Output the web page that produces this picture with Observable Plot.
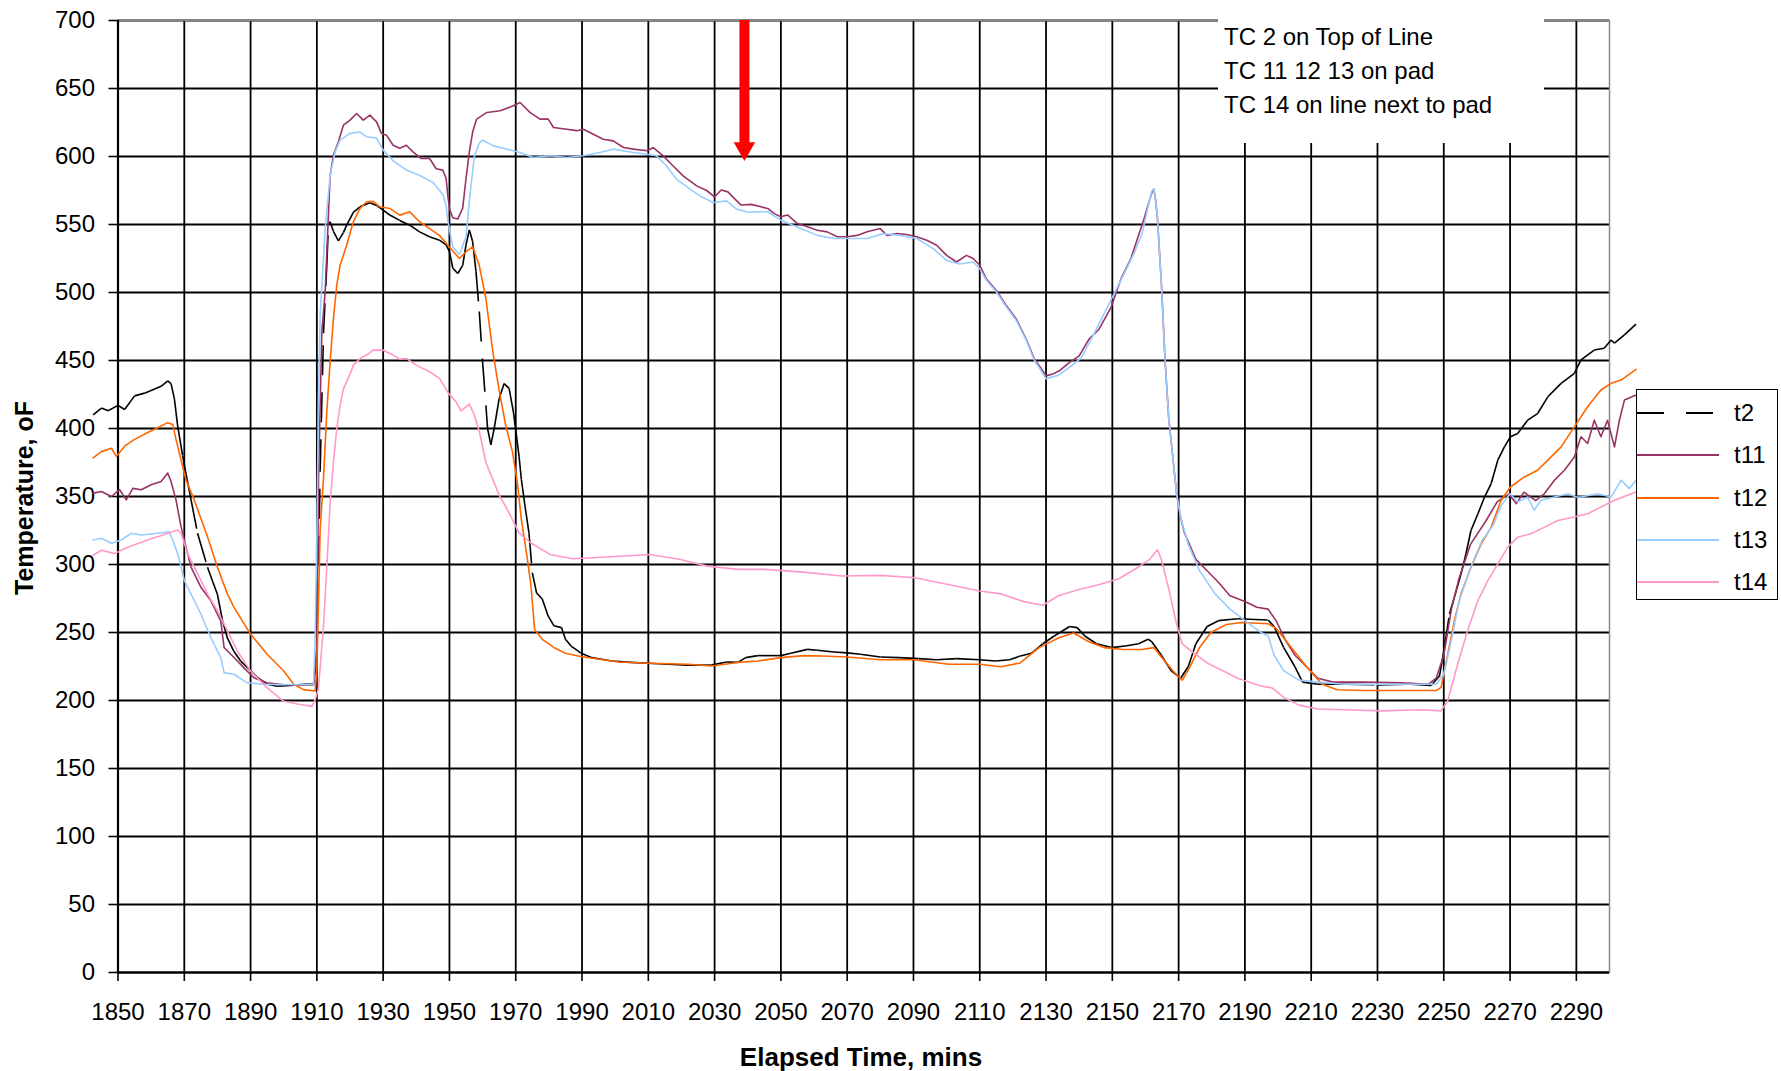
<!DOCTYPE html>
<html><head><meta charset="utf-8">
<script src="https://cdn.jsdelivr.net/npm/d3@7"></script>
<script src="https://cdn.jsdelivr.net/npm/@observablehq/plot@0.6"></script>
<style>
body{margin:0;background:#fff;}
#wrap{position:relative;width:1781px;height:1071px;overflow:hidden;font-family:"Liberation Sans",Arial,sans-serif;color:#000;}
#wrap svg{position:absolute;left:0;top:0;}
.note{position:absolute;left:1218px;top:19px;width:326px;height:124px;background:#fff;font-size:24px;line-height:34px;padding-top:1px;box-sizing:border-box;}
.note div{padding-left:6px;white-space:nowrap;}
.legend{position:absolute;left:1636px;top:389px;width:142px;height:211px;background:#fff;border:1.5px solid #000;box-sizing:border-box;}
.legend .row{position:absolute;left:0;width:140px;height:30px;}
.legend .row svg{position:absolute;left:8px;top:0;}
.legend .row span{position:absolute;left:97px;top:0;font-size:24px;line-height:30px;}
.xtitle{position:absolute;left:861px;top:1042px;transform:translateX(-50%);font-weight:bold;font-size:26px;white-space:nowrap;}
.ytitle{position:absolute;left:24px;top:498px;transform:translate(-50%,-50%) rotate(-90deg);font-weight:bold;font-size:25px;white-space:nowrap;}
</style></head><body><div id="wrap"></div>
<script>
// ---- series definitions ----
const seriesNames = ["t2", "t11", "t12", "t13", "t14"];
const seriesColors = ["#000000", "#993366", "#FF6600", "#99CCFF", "#FF99CC"];

// [elapsed minutes, temperature oF]
const t2 = [[1842.5,410],[1845,415],[1847,413],[1850,417],[1852,414],[1855,424],[1858,426],[1860,428],[1863,431],[1865,435],[1866,433],[1867,422],[1868,402],[1869.5,380],[1870.5,367],[1872,348],[1874,323],[1877,298],[1880,278],[1881.5,259],[1883,246],[1885,236],[1887,229],[1890,222],[1892,217],[1895,212],[1898,210.5],[1902,211],[1906,212],[1909,212],[1910,230],[1911,370],[1912,470],[1913,520],[1913.5,550],[1914,552],[1915,545],[1916.5,538],[1918,544],[1919,549.5],[1921,559],[1923,563],[1926,566],[1928,564],[1930,560.5],[1932,557],[1935,553],[1938,549.5],[1941,544.6],[1944,541],[1947,538.5],[1949,535],[1950,530],[1951,518],[1952.5,514],[1954,520],[1955,535],[1956,546],[1957,537.5],[1958,515.5],[1959,486],[1960,449],[1961,417],[1961.5,400],[1962.5,388],[1963.5,400],[1965,422],[1966.5,433],[1968,429.5],[1969.3,412],[1970,399],[1971,379.6],[1971.7,362.5],[1972.8,343],[1974,323],[1975,294],[1976.3,279],[1978,274.6],[1979.8,262],[1981.5,255],[1983.8,253.6],[1985,245],[1986.7,240],[1989.6,235],[1993,231.5],[1999,229],[2004.7,228],[2010,227.4],[2016,226.6],[2022,226],[2029,226],[2033.6,228.3],[2037,228],[2039.4,231.5],[2043,233],[2050,233],[2053,234.7],[2058,237.6],[2061,237],[2066,235.7],[2070,235],[2074,234],[2080,232],[2085.7,231.5],[2091.5,230.8],[2097,230],[2103,230.8],[2110,230],[2114.7,229],[2119,230],[2122,232.5],[2125.6,234.7],[2129,241.7],[2132.5,247.4],[2137.1,254.4],[2139.4,253.6],[2141.7,247.4],[2145.2,241.7],[2149.8,238.9],[2154.4,240.3],[2157.9,241.7],[2160.8,245.1],[2161.9,243.2],[2164.8,233.3],[2167.7,222],[2170.6,216.4],[2172.9,224.8],[2175.2,241.7],[2178.6,254.4],[2182,258.7],[2187.8,260.1],[2197,259.2],[2198.8,254.4],[2201.7,238.9],[2205.1,224.8],[2207.4,213.5],[2212,212],[2220,212],[2230,211.5],[2240,212],[2246.2,211],[2248.7,218],[2250.2,239],[2251.7,263.6],[2253.2,276],[2255.2,293],[2256.7,307.9],[2258.2,325],[2260.3,337.3],[2262.3,349.6],[2264.3,359.5],[2266.3,376.7],[2268.3,386.5],[2270.1,393.9],[2272.3,396.3],[2275.3,406.1],[2278.3,411],[2281.4,423.3],[2285.4,433.2],[2289.4,440.5],[2291.4,450.4],[2295.4,457.7],[2298.4,459],[2300.5,465.1],[2301.5,462.7],[2304.5,468.8],[2308,476.7]];

const t11 = [[1842.5,352.5],[1845,353.7],[1848,350],[1850.5,355],[1852.5,347.5],[1854.5,356],[1857,355],[1860,358.6],[1863,361],[1865,367.3],[1866,361],[1867.5,347.5],[1869,328],[1870.5,313],[1872,298.3],[1875,283.3],[1878,273.5],[1881,258.6],[1882,239],[1885,231.6],[1888,224],[1891,216.7],[1895,213],[1900,211.6],[1905,211.5],[1909,211.5],[1910,240],[1910.5,363],[1911.5,471],[1912.5,500.5],[1914,586],[1915,601],[1916.5,610.8],[1918,623],[1920,626.7],[1922,631.6],[1924,626.7],[1926,630.4],[1928,625.5],[1929.5,617],[1931,615.7],[1933,608.3],[1935,606],[1937,608.3],[1939,603.4],[1941.5,598.5],[1944,598.5],[1946,591],[1948,590],[1949,583.8],[1949.5,571.6],[1950,561.8],[1951,555],[1952.5,554],[1954,562],[1955,583.8],[1956,603.4],[1957,618],[1958.2,627.5],[1961.3,632.4],[1965.3,633.6],[1969.3,637.3],[1971.3,639.7],[1974.3,632.4],[1977.3,627.5],[1979.8,627.5],[1981.4,621.3],[1985.4,620],[1988.4,619],[1990.4,620],[1993.4,616.4],[1996.4,612.7],[1999.4,611.5],[2002.5,606.6],[2005.5,605.4],[2009.7,604.2],[2011.5,606.6],[2014.5,600.5],[2017.5,593],[2020.5,585.8],[2024.6,578.4],[2027.6,575],[2030,570.4],[2032,575.4],[2034,574],[2036,569],[2038,564.3],[2041,564.8],[2044,563],[2046,561.8],[2048,558],[2050,555.7],[2052,557],[2055,550.7],[2058,548.3],[2061,545.8],[2064,544.6],[2067,541],[2070,541],[2073,542],[2076,544.6],[2080,547],[2082,542],[2085,543.3],[2088,542.6],[2091,541],[2094,538.4],[2097,534.7],[2100,527.3],[2103,522.4],[2106,527.3],[2108,525],[2110,520],[2112,510],[2115,501.5],[2118,490.4],[2121,480.5],[2124,465.8],[2126.5,451],[2128,446],[2130,438.7],[2132,440],[2134,442.4],[2137,448.5],[2140,453.4],[2143,465.8],[2146,473],[2149.6,489],[2152.6,510],[2155.6,524.9],[2157.6,539.7],[2159.6,554.4],[2161,566],[2162,574],[2162.5,576],[2163,569],[2163.6,555],[2164.8,507],[2165.9,450.5],[2167,408.2],[2168.2,380],[2169.4,351.8],[2170.6,334.8],[2171.7,323.6],[2175.2,303.8],[2178.6,295.4],[2182,286.9],[2185.5,277],[2190,272.8],[2193.6,268.6],[2197,267.2],[2199.4,258.7],[2202.2,244.5],[2205.1,233.3],[2208.6,224.8],[2212,216.4],[2216.6,213.5],[2226,213.5],[2237.4,213],[2245.4,212],[2247.7,216.4],[2250,233.3],[2252.3,267.2],[2254.6,289.7],[2258.1,315],[2262.7,332],[2266.1,346.1],[2269.6,351.8],[2271.9,344.7],[2274.2,353.2],[2277.7,347],[2280.3,352],[2283.4,362],[2286.4,369.3],[2289.4,379],[2291.4,393.9],[2293.4,389],[2295.4,406.1],[2297.4,393.9],[2299.4,406.1],[2301.5,386.5],[2303,406.1],[2304.5,420.9],[2308,424.6]];

const t12 = [[1842.5,378.4],[1845,383],[1848,385.5],[1849.5,379.5],[1852,387],[1855,392],[1859,397],[1862,400.6],[1865,404.3],[1866.5,403],[1867.5,392],[1869,377],[1870.5,362.3],[1873,347.5],[1877,320.4],[1880,298],[1883,278.4],[1885,268.5],[1890,248.8],[1895,234],[1900,221.7],[1903,212],[1906,208],[1909.5,207],[1910,224],[1910.5,273],[1911,326.5],[1912,363.2],[1913,412.3],[1914,449],[1915,481],[1916,505.4],[1917,520],[1919,534.8],[1921,552],[1923,561.8],[1925,566.7],[1927,567],[1929,563],[1932,561.8],[1935,556.9],[1938,559.3],[1941,552],[1944,547],[1947,542],[1949.5,534.8],[1953,525],[1955,530],[1957,533.6],[1959,520],[1961,495.6],[1963,458],[1965,428],[1967,402],[1969,383],[1970.5,360],[1971.7,333],[1973.4,306],[1974.6,284.4],[1975.7,252.3],[1978,245],[1981.5,239],[1985,234.7],[1989.6,232.3],[1995.4,230.3],[2001,228.3],[2010,227.4],[2022,226.6],[2029,225.4],[2037,228],[2043,229],[2050,231.5],[2057,233],[2062.6,232.7],[2070,232],[2080,230],[2090,230],[2100.7,226.7],[2110,226.7],[2116.4,224.8],[2122.2,227.6],[2127.9,238.9],[2133.7,246],[2138.3,249.6],[2142.9,243.2],[2147.5,238.9],[2153.3,237.5],[2159,237.5],[2162.5,238.9],[2164.8,231.9],[2168.2,222],[2171.1,214.9],[2173.4,224.8],[2176.3,238.9],[2179.8,250.2],[2184.4,255.9],[2189,257.3],[2197,256.4],[2199.4,253],[2204,238.9],[2208.6,224.8],[2213.2,212.1],[2217.8,207.9],[2226,207.3],[2237.4,207.3],[2247.7,207.3],[2249.2,209.6],[2251.2,234],[2253.2,258.7],[2255.2,278.4],[2258.2,298],[2261.3,315.2],[2264.3,327.5],[2267.3,347.2],[2270.1,357],[2274.3,364.4],[2278.3,369.3],[2281.4,376.7],[2285.4,386.5],[2289.4,401.2],[2293.4,416],[2297.4,428.3],[2300.5,433.2],[2303.5,435.6],[2308,443.5]];

const t13 = [[1842.5,318],[1845,319.3],[1848,315.6],[1851,318],[1854,323],[1857,321.7],[1862,323],[1865.5,324],[1866.5,318],[1868,308],[1870,288.4],[1872,278.4],[1875,263.6],[1878,246.3],[1881,231.5],[1882,220.5],[1885,219.3],[1889,213],[1895,211.8],[1905,211.8],[1909,211.8],[1909.5,248.8],[1910,323],[1910.5,421.6],[1911,483],[1912.5,547],[1914,586],[1915.5,603.4],[1917,612],[1920,617],[1923,618],[1925,614.5],[1928,613.5],[1930,604.7],[1933,597],[1937,590],[1941,586],[1945,581],[1948,572],[1949,564],[1949.5,553],[1951,533.5],[1953,528],[1955,541],[1956.2,572],[1957.5,600],[1959,610],[1960,612],[1963.3,607.8],[1967.3,605.4],[1971.3,603],[1975.3,599.3],[1980.4,600.5],[1985.4,599.3],[1990.4,600.5],[1995.4,603],[1999.4,605.4],[2005.5,603],[2009.7,601.7],[2012.5,600.5],[2015.5,593],[2018.5,583.3],[2022.6,576],[2025.6,571],[2029.6,566.2],[2033.6,567.4],[2036.6,561.3],[2040.6,558.8],[2042,559.4],[2046,559.4],[2050,553.2],[2056,547],[2061,542],[2066,539.7],[2070,539.7],[2076,539.7],[2081,543.3],[2086,542],[2091,539.7],[2096,532.3],[2100,523.6],[2104,521],[2108,522.4],[2110,517.5],[2112,509],[2115,500.5],[2118,489.5],[2121,479.5],[2124,465],[2126.5,450],[2128,444.5],[2130,436.5],[2133.7,439.2],[2137.1,444.9],[2140.6,451.9],[2144,467.4],[2147.5,484.3],[2150.4,498.4],[2153.3,512.6],[2156.7,529.5],[2159,543.6],[2160.8,563.3],[2161.9,574.6],[2162.5,576],[2163,569],[2163.6,554.9],[2164.8,507],[2165.9,450.5],[2167,408.2],[2168.2,380],[2169.4,351.8],[2170.6,334.8],[2172.9,315],[2176.3,295.4],[2181,278.4],[2185.5,267.2],[2190,258.7],[2194.7,250.2],[2197,247.4],[2198.8,233.3],[2201.7,222],[2206.3,215],[2212,213.5],[2220,212],[2231.6,212],[2243,212],[2247.7,212],[2250,219.2],[2252.3,244.5],[2254.6,272.7],[2258.1,298],[2261.6,317.9],[2265,329.2],[2267.3,343.3],[2270,352],[2272.3,346],[2275.3,349.6],[2277.3,340],[2279.3,347.2],[2283.4,349.6],[2287.4,352],[2290,349.6],[2291.4,349.6],[2296.4,352],[2300.5,349.6],[2303.5,362],[2306,355.8],[2308,362]];

const t14 = [[1842.5,306.8],[1845,310.5],[1849,308],[1852,311.7],[1856,315.4],[1860,319],[1865,322.8],[1868,325.3],[1869,323],[1871,308],[1874,293.3],[1877,278.4],[1880,266],[1883,251.2],[1886,236.4],[1890,221.6],[1895,209.3],[1900,199.4],[1905,197],[1908.5,195.7],[1909.5,200.6],[1910.5,209],[1912,255],[1913,298],[1914,345],[1915,375],[1916,400],[1917,417],[1918,429],[1920,440],[1921,446.6],[1923,451.4],[1925,454],[1927,457.6],[1930,457.6],[1933,454],[1935,451],[1937,451.5],[1940,446.6],[1944,441.7],[1947,436.8],[1949.7,426],[1952,419.6],[1953.5,413],[1956,418],[1957.5,410],[1959,398],[1961,375],[1963,363],[1965,351],[1968,338],[1971,323.3],[1974.5,316],[1980.3,307.4],[1987.3,304.2],[1998.9,305.7],[2010.5,307.4],[2019.7,303.7],[2027.8,298.8],[2037,296.4],[2045,296.4],[2056.8,294.4],[2068.4,291.5],[2080,292],[2090.5,290.3],[2103,284],[2110,280.5],[2116.4,278.4],[2123.3,272.7],[2129,270],[2133.7,277],[2139.4,281.3],[2146.4,285.5],[2152.1,289.7],[2157.9,298.2],[2161.3,303.8],[2163.6,310.9],[2164.8,303.8],[2167.1,281.3],[2169.4,255.9],[2171.1,241.7],[2174,236],[2178.6,227.6],[2183.2,222],[2187.8,216.4],[2194.7,210.7],[2198.2,209.3],[2201.7,202.3],[2206.3,196.6],[2212,193.8],[2220,193.2],[2231.6,192.4],[2243,193.2],[2249.2,192.4],[2251.2,199.8],[2254.2,226.8],[2257.2,251.4],[2260.3,273.5],[2263.3,288.2],[2266.3,300.5],[2269.3,312.8],[2272.3,320.1],[2276.3,322.6],[2280.4,327.5],[2284.4,332.4],[2289.4,334.9],[2293.4,337.3],[2297.4,342.3],[2301.5,347.2],[2308,353.3]];

const xTicks = [1850,1870,1890,1910,1930,1950,1970,1990,2010,2030,2050,2070,2090,2110,2130,2150,2170,2190,2210,2230,2250,2270,2290];
const yTicks = [0,50,100,150,200,250,300,350,400,450,500,550,600,650,700];
const xTitle = "Elapsed Time, mins";
const yTitle = "Temperature, oF";
const noteLines = ["TC 2 on Top of Line", "TC 11 12 13 on pad", "TC 14 on line next to pad"];
// red marker arrow
const arrowTime = [2039];
const arrowFrom = [700];
const arrowTo = [597];

// ---- build ----
const seriesData = [t2, t11, t12, t13, t14];
const rows = (i) => seriesData[i].map(([t, v]) => ({series: seriesNames[i], t, v}));
const t2Segments = t2.slice(1).map((p, i) => ({ta: t2[i][0], va: t2[i][1], tb: p[0], vb: p[1]}));
const arrowData = arrowTime.map((t, i) => ({t, from: arrowFrom[i], to: arrowTo[i]}));

const lineW = 1.6;
const chart = Plot.plot({
  width: 1781, height: 1071,
  marginLeft: 117.5, marginRight: 172, marginTop: 20, marginBottom: 99,
  x: {domain: [1850, 2300]},
  y: {domain: [0, 700]},
  style: {fontFamily: '"Liberation Sans", Arial, sans-serif', fontSize: "24px", color: "#000", background: "transparent", overflow: "visible"},
  marks: [
    Plot.gridX(xTicks, {stroke: "#000", strokeOpacity: 1, strokeWidth: 1.8}),
    Plot.gridY(yTicks, {stroke: "#000", strokeOpacity: 1, strokeWidth: 1.8}),
    Plot.frame({stroke: "#888", strokeWidth: 1.5}),
    Plot.ruleX([1850], {stroke: "#000", strokeWidth: 2.2}),
    Plot.ruleY([0], {stroke: "#000", strokeWidth: 2.2}),
    Plot.axisX(xTicks, {tickSize: 9, tickPadding: 21, tickFormat: d => String(d), label: null, strokeWidth: 1.6, fontSize: 24}),
    Plot.axisY(yTicks, {tickSize: 9, tickPadding: 14, tickFormat: d => String(d), label: null, strokeWidth: 1.6, fontSize: 24}),
    Plot.link(t2Segments, {x1: "ta", y1: "va", x2: "tb", y2: "vb", stroke: seriesColors[0], strokeWidth: lineW, strokeDasharray: "30,17"}),
    Plot.line(rows(1), {x: "t", y: "v", stroke: seriesColors[1], strokeWidth: lineW}),
    Plot.line(rows(2), {x: "t", y: "v", stroke: seriesColors[2], strokeWidth: lineW}),
    Plot.line(rows(3), {x: "t", y: "v", stroke: seriesColors[3], strokeWidth: lineW}),
    Plot.line(rows(4), {x: "t", y: "v", stroke: seriesColors[4], strokeWidth: lineW}),
    Plot.ruleX(arrowData, {x: "t", y1: "from", y2: "to", stroke: "#FF0000", strokeWidth: 10, insetBottom: 16}),
    Plot.dot(arrowData, {x: "t", y: "to", symbol: "triangle", r: 8, rotate: 180, dy: -12, fill: "#FF0000", stroke: "none"})
  ]
});

const wrap = document.getElementById("wrap");
wrap.appendChild(chart);

// note box
const note = document.createElement("div");
note.className = "note";
noteLines.forEach(s => { const d = document.createElement("div"); d.textContent = s; note.appendChild(d); });
wrap.appendChild(note);

// legend
const legend = document.createElement("div");
legend.className = "legend";
seriesNames.forEach((name, i) => {
  const row = document.createElement("div");
  row.className = "row";
  row.style.top = (8 + i * 42.3) + "px";
  const dash = i === 0 ? ' stroke-dasharray="27,22"' : '';
  row.innerHTML = `<svg width="84" height="30"><line x1="0" y1="15" x2="82" y2="15" stroke="${seriesColors[i]}" stroke-width="2"${dash}/></svg><span>${name}</span>`;
  legend.appendChild(row);
});
wrap.appendChild(legend);

// axis titles
const xt = document.createElement("div"); xt.className = "xtitle"; xt.textContent = xTitle; wrap.appendChild(xt);
const yt = document.createElement("div"); yt.className = "ytitle"; yt.textContent = yTitle; wrap.appendChild(yt);
</script>
</body></html>
